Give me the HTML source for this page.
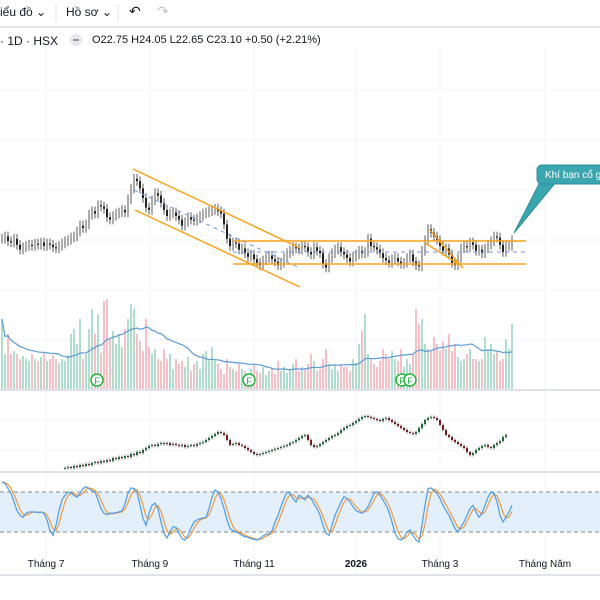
<!DOCTYPE html>
<html><head><meta charset="utf-8">
<style>
html,body{margin:0;padding:0;background:#fff;width:600px;height:600px;overflow:hidden;font-family:"Liberation Sans","Noto Sans CJK SC",sans-serif;}
svg{position:absolute;left:0;top:0}
.tb{position:absolute;font-size:12px;color:#131722;}
</style></head><body>
<div class="tb" style="left:0;top:5px">iểu đồ ⌄</div>
<div class="tb" style="left:66px;top:5px">Hồ sơ ⌄</div>
<div class="tb" style="left:129px;top:3px;font-size:14px">↶</div>
<div class="tb" style="left:157px;top:3px;font-size:14px;color:#c4c7ce">↷</div>
<div class="tb" style="left:0;top:34px;font-size:12px">· 1D · HSX</div>
<div class="tb" style="left:92px;top:34px;font-size:11px">O22.75 H24.05 L22.65 C23.10 +0.50 (+2.21%)</div>
<svg id="c" width="600" height="600"></svg>
<script>
const closes=[23.2,23.4,23.0,22.9,23.2,22.7,22.3,22.5,22.6,22.7,
22.6,22.8,22.7,22.9,22.6,22.8,22.7,22.5,22.4,22.6,
22.8,23.0,23.1,23.3,23.4,23.8,24.3,24.1,24.4,25.2,
25.5,25.3,26.0,25.9,25.7,25.0,24.8,25.1,25.3,25.4,
25.6,25.4,26.5,27.4,28.2,28.0,27.4,26.6,25.8,25.6,
26.4,27.0,26.8,26.2,25.6,25.1,25.3,25.4,25.1,24.8,
24.3,24.6,25.0,24.8,24.7,24.9,25.1,25.3,25.4,25.5,
25.6,25.7,25.5,25.3,24.4,23.2,22.6,22.9,22.8,22.3,
22.4,22.0,21.7,21.9,21.5,21.2,21.0,21.4,21.6,21.8,
21.5,21.3,21.0,21.2,21.6,22.0,22.2,22.5,22.4,22.3,
22.6,22.5,22.1,21.9,22.5,22.2,22.0,21.1,20.8,21.6,
22.0,22.3,22.5,22.1,21.9,21.6,21.3,21.7,21.9,22.2,
22.0,22.1,23.2,22.6,22.5,22.3,22.0,21.6,21.4,21.2,
21.5,21.6,21.3,21.1,21.2,21.6,21.9,21.3,21.0,20.9,
22.2,23.1,24.0,23.7,23.4,23.1,22.6,22.2,22.4,21.9,
21.2,21.0,21.6,22.4,22.6,22.5,22.9,22.7,22.2,22.3,
22.0,22.4,22.7,23.0,23.4,23.3,22.7,22.1,22.6,22.6,23.1];
const volumes=[70,35,55,35,38,35,30,33,30,28,
35,30,28,32,36,28,30,34,30,26,
30,28,34,55,60,45,70,30,35,60,
80,55,75,36,88,90,50,58,45,55,
42,60,70,85,80,55,48,38,70,42,
35,40,30,28,40,30,35,20,30,25,
28,22,32,18,25,28,20,35,38,30,
42,30,25,20,15,30,22,20,18,25,
20,18,15,20,25,18,16,22,14,18,
20,15,28,18,22,16,20,25,30,18,
22,20,25,35,28,18,20,30,40,25,
20,24,18,25,22,22,18,30,26,45,
58,75,35,30,25,22,28,40,35,30,
38,30,28,40,22,30,25,35,80,65,
70,45,40,38,52,45,38,48,40,55,
38,45,32,28,30,35,40,30,30,28,
30,52,40,45,35,38,28,30,50,40,65];
const stochK=[95,93,85,78,65,52,45,42,48,50,
50,50,49,50,48,38,22,15,30,52,
68,75,80,78,75,72,78,85,88,85,
82,80,68,55,48,46,48,48,49,50,
52,62,78,86,85,80,60,40,30,48,
60,63,55,35,18,11,20,28,27,18,
10,8,15,26,35,38,40,41,42,55,
72,83,80,70,55,38,25,22,20,18,
15,13,12,10,9,8,10,14,17,16,
22,35,45,58,70,80,78,70,65,75,
72,68,75,70,62,55,45,30,18,15,
30,45,55,65,73,70,65,58,52,50,
48,52,58,68,78,80,75,68,60,50,
35,18,10,8,12,20,23,15,8,5,
30,60,85,86,82,78,70,60,52,45,
35,25,20,28,35,45,55,60,50,42,
48,60,72,80,78,65,45,35,42,50,60];
const compare=[2,3,2,4,3,5,4,6,5,7,
8,7,9,8,10,9,12,11,13,12,
14,13,16,15,18,17,20,22,24,25,
24,26,27,26,27,25,26,25,24,25,
23,24,25,24,26,27,28,30,32,34,
36,38,37,35,30,25,26,27,25,24,
22,20,18,16,15,16,17,18,19,20,
21,22,23,24,25,27,28,30,32,34,
35,30,25,23,24,26,28,30,32,34,
35,37,40,42,44,45,47,49,51,53,
54,53,52,51,50,49,51,52,50,48,
46,44,42,40,38,37,36,38,42,46,
50,52,53,52,50,45,40,35,33,30,
28,26,24,22,18,15,17,20,22,24,
25,23,22,25,27,29,33,35];
const timeLabels=["Tháng 7","Tháng 9","Tháng 11","2026","Tháng 3","Tháng Năm"];
const timeLabelIdx=[14.7,49.3,84,118,146,181];

const svg=document.getElementById('c');
const NS='http://www.w3.org/2000/svg';
function mk(tag,attrs,parent){const e=document.createElementNS(NS,tag);for(const k in attrs)e.setAttribute(k,attrs[k]);(parent||svg).appendChild(e);return e;}
const xOf=i=>2+i*3;
const yPrice=p=>240-(p-23.1)*12;
const yVol=v=>389-v;
const yStoch=v=>545.3-v*0.667;
const yCmp=v=>470-v;

const grid=mk('g',{});


timeLabelIdx.forEach(t=>{mk('line',{x1:xOf(t),x2:xOf(t),y1:45,y2:575,stroke:'#f0f3fa','stroke-width':1},grid);});
[90,140,190,240,290,340,420,450].forEach(y=>{mk('line',{x1:0,x2:600,y1:y,y2:y,stroke:'#f3f5f9','stroke-width':1},grid);});
const sep=mk('rect',{x:0,y:26,width:600,height:2,fill:'#e0e3eb'});


mk('line',{x1:56,x2:56,y1:4,y2:22,stroke:'#e0e3eb'});
mk('line',{x1:118,x2:118,y1:4,y2:22,stroke:'#e0e3eb'});
mk('circle',{cx:76,cy:40,r:6,fill:'#e6e8ee'});
mk('line',{x1:73,x2:79,y1:40,y2:40,stroke:'#787b86','stroke-width':1.5});
[390,472,575].forEach(y=>{const l=mk('line',{x1:0,x2:600,y1:y,y2:y,stroke:'#e0e3eb','stroke-width':2});

});

const band=mk('rect',{x:0,y:yStoch(80),width:600,height:yStoch(20)-yStoch(80),fill:'#e3f0fb'});


[80,20].forEach(v=>mk('line',{x1:0,x2:600,y1:yStoch(v),y2:yStoch(v),stroke:'#888','stroke-dasharray':'4,3','stroke-width':1}));

const vg=mk('g',{});


volumes.forEach((v,i)=>{const up=i===0||closes[i]>=closes[i-1];
const r=mk('rect',{x:xOf(i)-0.7,y:yVol(v),width:1.4,height:v,fill:up?'#8fd0b8':'#f5a5ad'},vg);

});
let maPts=[];volumes.forEach((v,i)=>{const s=volumes.slice(Math.max(0,i-19),i+1);const m=s.reduce((a,b)=>a+b,0)/s.length;maPts.push(xOf(i)+','+yVol(m));});
const ma=mk('polyline',{points:maPts.join(' '),fill:'none',stroke:'#5b9bd5','stroke-width':1.2});


[97,249,402,410].forEach(x=>{const c=mk('circle',{cx:x,cy:380,r:6,fill:'#fff',stroke:'#22b33a','stroke-width':1.5});


const t=mk('text',{x:x,y:384,'font-size':9,'text-anchor':'middle',fill:'#22b33a','font-family':'Liberation Sans'});t.textContent='F';});

const pg=mk('g',{});


closes.forEach((c,i)=>{const o=i?closes[i-1]:c;const hi=Math.max(o,c)+0.4,lo=Math.min(o,c)-0.4;const x=xOf(i);const up=c>=o;
mk('line',{x1:x,x2:x,y1:yPrice(hi),y2:yPrice(lo),stroke:'#333','stroke-width':0.8},pg);
const b=mk('rect',{x:x-1,y:yPrice(Math.max(o,c)),width:2,height:Math.max(1,Math.abs(yPrice(o)-yPrice(c))),fill:up?'#aaa':'#222'},pg);

});

const dg=mk('g',{stroke:'#f7a21b','stroke-width':1.5});


mk('line',{x1:133,y1:169,x2:300,y2:248},dg);
mk('line',{x1:135,y1:210,x2:300,y2:287},dg);
mk('line',{x1:233,y1:241,x2:526,y2:241},dg);
mk('line',{x1:233,y1:264,x2:526,y2:264},dg);
mk('line',{x1:430,y1:230,x2:463,y2:268},dg);
mk('line',{x1:425,y1:243,x2:457,y2:263},dg);
mk('line',{x1:134,y1:190,x2:300,y2:268,stroke:'#6f9ad8','stroke-width':1,'stroke-dasharray':'4,4'});
mk('line',{x1:233,y1:252,x2:526,y2:252,stroke:'#6f9ad8','stroke-width':1,'stroke-dasharray':'4,4'});

const cg=mk('g',{});


compare.forEach((v,i)=>{const o=i?compare[i-1]:v;const x=65+i*3;const up=v>=o;
mk('line',{x1:x,x2:x,y1:yCmp(Math.max(o,v)+1.5),y2:yCmp(Math.min(o,v)-1.5),stroke:'#444','stroke-width':0.7},cg);
const b=mk('rect',{x:x-1,y:yCmp(Math.max(o,v)),width:2,height:Math.max(1,Math.abs(v-o)),fill:up?'#1e6b3a':'#7a1a1a'},cg);

});

const kp=stochK.map((v,i)=>xOf(i)+','+yStoch(v)).join(' ');
const dp=stochK.map((v,i)=>{const s=stochK.slice(Math.max(0,i-2),i+1);return xOf(i)+','+yStoch(s.reduce((a,b)=>a+b,0)/s.length);}).join(' ');
const dl=mk('polyline',{points:dp,fill:'none',stroke:'#f39a3c','stroke-width':1.2});


const kl=mk('polyline',{points:kp,fill:'none',stroke:'#4d9be6','stroke-width':1.2});



timeLabels.forEach((t,i)=>{const e=mk('text',{x:xOf(timeLabelIdx[i]),y:567,'font-size':10,'text-anchor':'middle',fill:'#131722','font-family':'Liberation Sans','font-weight':t==='2026'?'bold':'normal'});e.textContent=t;

});

const cl=mk('g',{});


mk('path',{d:'M540 182 L514 233 L556 182 Z',fill:'#3aa6b0',stroke:'#2b8f98'},cl);
mk('rect',{x:537,y:165,width:80,height:19,rx:5,fill:'#3aa6b0',stroke:'#2b8f98'},cl);
const ct=mk('text',{x:545,y:178,'font-size':10,fill:'#fff','font-family':'Liberation Sans'},cl);ct.textContent='Khí bạn cổ g';
</script>
</body></html>
